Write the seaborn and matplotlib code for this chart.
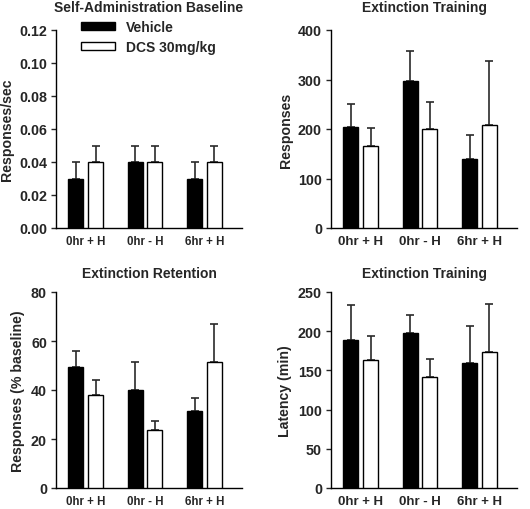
import numpy as np
import pandas as pd
import matplotlib
matplotlib.use("Agg")
import matplotlib.pyplot as plt
import seaborn as sns

# ---------------- data ----------------
conditions = ["0hr + H", "0hr - H", "6hr + H"]
groups = ["Vehicle", "DCS 30mg/kg"]

# Panel A: Self-Administration Baseline (Responses/sec)
base_veh = [0.03, 0.04, 0.03]
base_veh_sem = [0.01, 0.01, 0.01]
base_dcs = [0.04, 0.04, 0.04]
base_dcs_sem = [0.01, 0.01, 0.01]

# Panel B: Extinction Training (Responses)
ext_veh = [204, 297, 139]
ext_veh_sem = [47, 60, 48]
ext_dcs = [165, 201, 209]
ext_dcs_sem = [38, 54, 129]

# Panel C: Extinction Retention (Responses % baseline)
ret_veh = [49.3, 40.2, 31.3]
ret_veh_sem = [6.5, 11.4, 5.4]
ret_dcs = [37.8, 23.5, 51.6]
ret_dcs_sem = [6.4, 3.7, 15.5]

# Panel D: Extinction Training (Latency, min)
lat_veh = [189, 198, 160]
lat_veh_sem = [44, 23, 47]
lat_dcs = [163, 141, 174]
lat_dcs_sem = [31, 24, 61]

titles = ["Self-Administration Baseline", "Extinction Training",
          "Extinction Retention", "Extinction Training"]
ylabels = ["Responses/sec", "Responses", "Responses (% baseline)", "Latency (min)"]
yticks = [[0.00, 0.02, 0.04, 0.06, 0.08, 0.10, 0.12],
          [0, 100, 200, 300, 400],
          [0, 20, 40, 60, 80],
          [0, 50, 100, 150, 200, 250]]
ytick_fmt = ["{:.2f}", "{:.0f}", "{:.0f}", "{:.0f}"]

panels = [
    (base_veh, base_veh_sem, base_dcs, base_dcs_sem),
    (ext_veh, ext_veh_sem, ext_dcs, ext_dcs_sem),
    (ret_veh, ret_veh_sem, ret_dcs, ret_dcs_sem),
    (lat_veh, lat_veh_sem, lat_dcs, lat_dcs_sem),
]

# ---------------- style ----------------
sns.set_style("ticks")
plt.rcParams["font.family"] = ["Liberation Sans", "DejaVu Sans"]
plt.rcParams["font.weight"] = "bold"
plt.rcParams["axes.labelweight"] = "bold"
plt.rcParams["axes.titleweight"] = "bold"

W, H = 530, 510
fig = plt.figure(figsize=(W / 100, H / 100), dpi=100)

# axes boxes in pixels: (left, top, right, bottom)
boxes = [(56, 31, 242, 229), (331, 31, 517, 229),
         (56, 293, 242, 489), (331, 293, 517, 489)]
title_pads = [13.5, 13.5, 10.5, 10.5]
ylabel_x = [-0.225, -0.205, -0.165, -0.21]
xtick_sizes = [8.3, 9.5, 8.3, 9.5]

palette = {"Vehicle": "black", "DCS 30mg/kg": "white"}

for i, (box, (veh, veh_sem, dcs, dcs_sem)) in enumerate(zip(boxes, panels)):
    l, t, r, b = box
    ax = fig.add_axes([l / W, 1 - b / H, (r - l) / W, (b - t) / H])
    df = pd.DataFrame({
        "condition": conditions * 2,
        "group": [groups[0]] * 3 + [groups[1]] * 3,
        "value": list(veh) + list(dcs),
    })
    sns.barplot(data=df, x="condition", y="value", hue="group",
                hue_order=groups, order=conditions, palette=palette,
                edgecolor="black", linewidth=1.0, width=0.66, gap=0.24,
                errorbar=None, legend=(i == 0), ax=ax, zorder=3)
    # upper-only SEM error bars, placed on the drawn bars
    for cont, sems in zip(ax.containers, [veh_sem, dcs_sem]):
        xs = [p.get_x() + p.get_width() / 2 for p in cont.patches]
        ys = [p.get_height() for p in cont.patches]
        ax.errorbar(xs, ys, yerr=[np.zeros(len(sems)), sems], fmt="none",
                    ecolor="#2a2a2a", elinewidth=1.2, capsize=2.6,
                    capthick=1.2, zorder=2)

    ax.set_xlim(-0.5, 2.63)
    ax.set_ylim(yticks[i][0], yticks[i][-1])
    ax.set_yticks(yticks[i])
    ax.set_yticklabels([ytick_fmt[i].format(v) for v in yticks[i]],
                       fontsize=10.3, fontweight="bold")
    ax.set_xticks(range(len(conditions)))
    ax.set_xticklabels(conditions, fontsize=xtick_sizes[i], fontweight="bold")
    ax.tick_params(axis="x", length=0, pad=5)
    ax.tick_params(axis="y", length=3.5, width=1.0, pad=3, direction="out")
    for s in ["left", "bottom"]:
        ax.spines[s].set_linewidth(1.0)
        ax.spines[s].set_color("black")
    sns.despine(ax=ax)
    ax.set_xlabel("")
    ax.set_ylabel(ylabels[i], fontsize=10.2, fontweight="bold")
    ax.yaxis.set_label_coords(ylabel_x[i], 0.5)
    ax.set_title(titles[i], fontsize=10, fontweight="bold", pad=title_pads[i])

    if i == 0:
        handles, labels = ax.get_legend_handles_labels()
        ax.get_legend().remove()
        fig.legend(handles, labels, loc="upper left",
                   bbox_to_anchor=(81 / W, 1 - 21 / H), frameon=False,
                   handlelength=2.45, handleheight=0.5, handletextpad=0.8,
                   labelspacing=0.4, borderpad=0, borderaxespad=0,
                   prop={"size": 10, "weight": "bold"})

fig.savefig("out.png", dpi=100)
